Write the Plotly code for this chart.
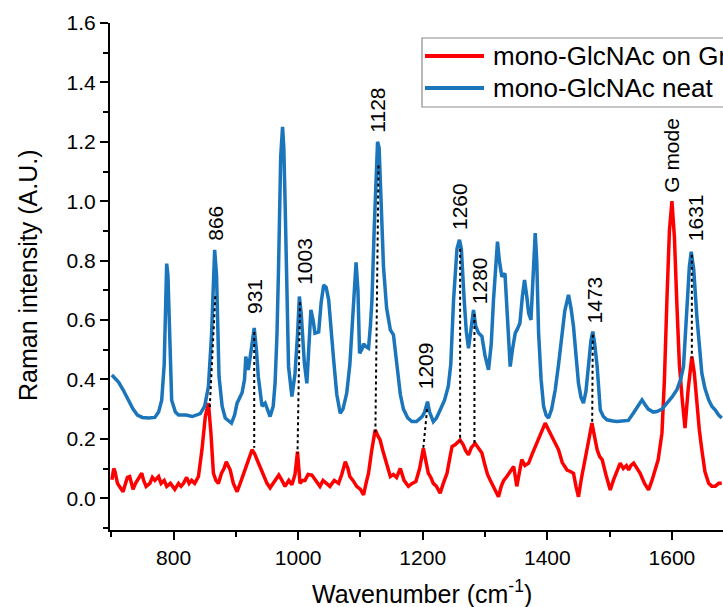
import plotly.graph_objects as go

# ---- data ----
neat_x = [701, 712, 719, 728, 735, 742, 750, 760, 770, 776, 781, 785, 789, 791, 794, 797, 803, 808, 820, 830,
          843, 850, 856, 861, 866, 869, 873, 878, 883, 893, 898, 902, 910, 914, 916, 919, 920, 924, 929.5, 933,
          936, 942, 947, 955, 960, 963, 966, 968.6, 972, 975, 977, 979, 982, 984.6, 990, 995, 999, 1002, 1005, 1010,
          1014, 1017, 1020.5, 1024, 1027, 1033, 1037, 1041, 1045, 1049, 1053, 1057, 1062, 1067.5, 1072, 1078, 1083, 1086, 1090, 1093,
          1096, 1098.6, 1102, 1105, 1109, 1113, 1116, 1118.5, 1122, 1125, 1127.5, 1130, 1133, 1137, 1142, 1148, 1153, 1156, 1158.6, 1164,
          1169, 1176, 1182.6, 1190, 1199, 1203, 1207.7, 1211, 1217, 1222, 1228, 1235, 1241, 1245, 1249.5, 1255, 1259, 1262, 1266.5, 1270,
          1273.5, 1277, 1281.5, 1285, 1289.6, 1295, 1300, 1305.6, 1310, 1313.6, 1317, 1320, 1323, 1327, 1332, 1336, 1340.4, 1344, 1348.5, 1352,
          1356, 1360, 1363.4, 1367, 1370, 1373.7, 1377, 1380.6, 1383, 1386, 1390, 1394, 1398, 1402, 1407, 1412.7, 1418, 1423.4, 1428, 1434,
          1438, 1442, 1446, 1450, 1454, 1458, 1462, 1466, 1470, 1473, 1476, 1480, 1483, 1485, 1490, 1495.7, 1505, 1512, 1520, 1530,
          1538, 1545, 1552, 1557, 1562, 1570, 1576, 1584, 1592, 1600, 1608, 1614, 1618.6, 1621, 1624, 1628, 1631, 1635, 1640, 1644,
          1648, 1653, 1659, 1664, 1669.6, 1675, 1680]
neat_y = [0.415, 0.39, 0.365, 0.33, 0.30, 0.28, 0.272, 0.27, 0.272, 0.29, 0.33, 0.45, 0.79, 0.75, 0.50, 0.33, 0.29, 0.28, 0.28, 0.275,
          0.285, 0.31, 0.376, 0.55, 0.836, 0.75, 0.41, 0.31, 0.27, 0.253, 0.28, 0.32, 0.355, 0.40, 0.477, 0.44, 0.432, 0.49, 0.573, 0.50,
          0.41, 0.31, 0.32, 0.275, 0.31, 0.388, 0.55, 0.78, 1.15, 1.25, 1.18, 1.005, 0.70, 0.443, 0.342, 0.42, 0.55, 0.679, 0.62, 0.455,
          0.387, 0.50, 0.634, 0.60, 0.556, 0.56, 0.66, 0.718, 0.71, 0.668, 0.58, 0.466, 0.35, 0.286, 0.30, 0.354, 0.45, 0.556, 0.72, 0.794,
          0.70, 0.488, 0.50, 0.52, 0.51, 0.505, 0.58, 0.668, 0.90, 1.12, 1.20, 1.18, 1.00, 0.78, 0.64, 0.567, 0.55, 0.50, 0.443, 0.35,
          0.30, 0.27, 0.258, 0.258, 0.275, 0.29, 0.325, 0.29, 0.258, 0.27, 0.297, 0.33, 0.376, 0.45, 0.668, 0.84, 0.87, 0.84, 0.668, 0.56,
          0.505, 0.556, 0.634, 0.58, 0.556, 0.545, 0.48, 0.432, 0.52, 0.668, 0.80, 0.864, 0.80, 0.746, 0.757, 0.62, 0.443, 0.50, 0.556, 0.57,
          0.589, 0.68, 0.735, 0.68, 0.623, 0.60, 0.75, 0.893, 0.80, 0.556, 0.40, 0.31, 0.28, 0.27, 0.30, 0.365, 0.45, 0.556, 0.63, 0.685,
          0.64, 0.578, 0.48, 0.387, 0.34, 0.32, 0.36, 0.443, 0.53, 0.561, 0.52, 0.443, 0.35, 0.297, 0.275, 0.264, 0.26, 0.258, 0.26, 0.262,
          0.286, 0.31, 0.331, 0.315, 0.30, 0.29, 0.292, 0.30, 0.32, 0.34, 0.365, 0.40, 0.443, 0.52, 0.612, 0.78, 0.83, 0.77, 0.612, 0.50,
          0.421, 0.37, 0.331, 0.31, 0.297, 0.28, 0.27]

gr_x = [701, 704, 706, 710, 713, 716, 719, 723, 726, 729.6, 732, 735, 739, 744, 749, 752, 756, 762, 766, 770,
        776, 780, 785, 789, 795, 802, 808, 812, 816, 821, 825, 829, 834, 840, 845.6, 851, 856, 860, 864, 868,
        872, 877, 881, 884.6, 888, 891, 896, 902, 907, 912.8, 918, 922, 926, 930, 934, 939, 945, 950, 955, 960,
        965, 969, 974, 979, 985, 990, 995, 999, 1003, 1007, 1011, 1016, 1022, 1028, 1035, 1040, 1045, 1051, 1058, 1065,
        1070, 1075.7, 1080, 1083, 1088, 1094, 1100, 1105, 1109, 1113, 1118, 1123.7, 1128, 1131.6, 1136, 1140, 1144, 1148, 1153, 1158,
        1164, 1170, 1177, 1183, 1189, 1195, 1201, 1205, 1209, 1213, 1217, 1222, 1228, 1233, 1239, 1243, 1247, 1252, 1256, 1260,
        1265, 1269, 1273.5, 1278, 1284, 1289, 1295, 1300, 1304, 1308, 1313, 1318, 1321.6, 1326, 1330, 1335, 1340, 1346, 1351, 1355,
        1359, 1364, 1370, 1376, 1383, 1390, 1396.6, 1402, 1407, 1412, 1418, 1424, 1431.6, 1437, 1442, 1446, 1450, 1455, 1461, 1466,
        1471.6, 1476, 1480, 1484, 1488, 1494, 1501, 1506, 1511, 1517, 1522, 1527, 1530.6, 1534, 1538.6, 1544, 1549, 1556, 1562.5, 1568,
        1573, 1578, 1584, 1588, 1592, 1596, 1600, 1604, 1608, 1612, 1616.6, 1621, 1626, 1632, 1636, 1640, 1644, 1648, 1653, 1659,
        1664, 1669.6, 1675, 1680]
gr_y = [0.062, 0.10, 0.09, 0.05, 0.04, 0.03, 0.022, 0.05, 0.07, 0.073, 0.05, 0.03, 0.05, 0.07, 0.084, 0.06, 0.04, 0.05, 0.07, 0.06,
        0.073, 0.05, 0.06, 0.04, 0.05, 0.03, 0.05, 0.04, 0.05, 0.07, 0.05, 0.06, 0.05, 0.073, 0.163, 0.275, 0.32, 0.22, 0.084, 0.06,
        0.05, 0.084, 0.10, 0.123, 0.11, 0.095, 0.05, 0.022, 0.05, 0.084, 0.11, 0.14, 0.163, 0.15, 0.13, 0.10, 0.073, 0.05, 0.035, 0.05,
        0.07, 0.078, 0.06, 0.04, 0.06, 0.045, 0.08, 0.157, 0.05, 0.06, 0.06, 0.08, 0.078, 0.06, 0.04, 0.06, 0.05, 0.04, 0.06, 0.05,
        0.08, 0.123, 0.10, 0.073, 0.06, 0.04, 0.03, 0.011, 0.05, 0.084, 0.16, 0.23, 0.21, 0.196, 0.16, 0.13, 0.10, 0.073, 0.08, 0.07,
        0.10, 0.06, 0.04, 0.05, 0.056, 0.10, 0.168, 0.12, 0.084, 0.07, 0.05, 0.04, 0.017, 0.05, 0.084, 0.13, 0.174, 0.18, 0.19, 0.196,
        0.18, 0.16, 0.146, 0.17, 0.185, 0.17, 0.152, 0.11, 0.08, 0.062, 0.04, 0.02, 0.005, 0.04, 0.06, 0.073, 0.09, 0.107, 0.04, 0.09,
        0.13, 0.11, 0.118, 0.15, 0.185, 0.22, 0.253, 0.23, 0.21, 0.19, 0.163, 0.12, 0.095, 0.09, 0.084, 0.04, 0.005, 0.07, 0.13, 0.19,
        0.253, 0.21, 0.163, 0.14, 0.13, 0.08, 0.028, 0.06, 0.09, 0.118, 0.10, 0.11, 0.095, 0.11, 0.118, 0.10, 0.084, 0.05, 0.028, 0.06,
        0.095, 0.13, 0.219, 0.40, 0.668, 0.90, 1.0, 0.88, 0.65, 0.45, 0.331, 0.236, 0.365, 0.477, 0.42, 0.32, 0.23, 0.163, 0.09, 0.05,
        0.04, 0.04, 0.05, 0.05]

series_names = ["mono-GlcNAc on Graphene", "mono-GlcNAc neat"]

peak_labels = ["866", "931", "1003", "1128", "1209", "1260", "1280", "1473", "G mode", "1631"]
peak_label_x = [868, 931, 1010, 1126, 1205, 1259, 1291, 1475, 1600, 1637]
peak_label_y = [0.927, 0.678, 0.797, 1.307, 0.447, 0.982, 0.732, 0.666, 1.156, 0.946]

# dotted connector lines between the two spectra (top point on neat, bottom point on graphene)
link_top_x = [867, 929.5, 1003, 1129, 1207, 1260, 1283, 1473, 1632]
link_top_y = [0.68, 0.56, 0.66, 1.12, 0.30, 0.84, 0.62, 0.55, 0.82]
link_bot_x = [858, 929.5, 999, 1124, 1201, 1260, 1283, 1472, 1632]
link_bot_y = [0.30, 0.17, 0.15, 0.22, 0.17, 0.19, 0.18, 0.25, 0.47]

x_ticks = [800, 1000, 1200, 1400, 1600]
y_ticks = [0.0, 0.2, 0.4, 0.6, 0.8, 1.0, 1.2, 1.4, 1.6]
x_title = "Wavenumber (cm<sup>-1</sup>)"
y_title = "Raman intensity (A.U.)"

FONT = "Liberation Sans, Arial, sans-serif"
RED = "#ff0000"
BLUE = "#1a75bb"
COLORS = [RED, BLUE]

W, H = 723, 607
ML, MR, MT, MB = 110, 0, 23, 77
PW, PH = W - ML - MR, H - MT - MB


def px_to_paper(px, py):
    return (px - ML) / PW, (H - MB - py) / PH


fig = go.Figure()
fig.add_trace(go.Scatter(x=gr_x, y=gr_y, mode="lines", name=series_names[0],
                         line=dict(color=RED, width=3.5), showlegend=False))
fig.add_trace(go.Scatter(x=neat_x, y=neat_y, mode="lines", name=series_names[1],
                         line=dict(color=BLUE, width=3.5), showlegend=False))

for tx, ty, bx, by in zip(link_top_x, link_top_y, link_bot_x, link_bot_y):
    fig.add_shape(type="line", xref="x", yref="y", x0=tx, y0=ty, x1=bx, y1=by,
                  line=dict(color="black", width=2, dash="dot"), layer="above")

for lab, lx, ly in zip(peak_labels, peak_label_x, peak_label_y):
    fig.add_annotation(x=lx, y=ly, xref="x", yref="y", text=lab, textangle=-90,
                       showarrow=False, font=dict(family=FONT, size=21, color="black"),
                       xanchor="center", yanchor="middle")

# legend box drawn by hand (it runs off the right edge, as in the reference)
bx0, by0 = px_to_paper(422, 107)
bx1, by1 = px_to_paper(780, 38)
fig.add_shape(type="rect", xref="paper", yref="paper", x0=bx0, y0=by0, x1=bx1, y1=by1,
              line=dict(color="#8c8c8c", width=1.2), fillcolor="white", layer="above")
for i, (name, col) in enumerate(zip(series_names, COLORS)):
    yy = 56 + 32 * i
    lx0, ly = px_to_paper(425, yy)
    lx1, _ = px_to_paper(484, yy)
    fig.add_shape(type="line", xref="paper", yref="paper", x0=lx0, y0=ly, x1=lx1, y1=ly,
                  line=dict(color=col, width=4), layer="above")
    tx, _ = px_to_paper(491, yy)
    fig.add_annotation(x=tx, y=ly, xref="paper", yref="paper", text=name, showarrow=False,
                       xanchor="left", yanchor="middle", font=dict(family=FONT, size=26, color="black"))

# axis titles (centred on the full, uncropped frame as in the reference)
xtx, xty = px_to_paper(422, 592)
fig.add_annotation(x=xtx, y=xty, xref="paper", yref="paper", text=x_title, showarrow=False,
                   xanchor="center", yanchor="middle", font=dict(family=FONT, size=25, color="black"))
ytx, yty = px_to_paper(28, 276)
fig.add_annotation(x=ytx, y=yty, xref="paper", yref="paper", text=y_title, showarrow=False, textangle=-90,
                   xanchor="center", yanchor="middle", font=dict(family=FONT, size=25, color="black"))

fig.update_layout(
    width=W, height=H,
    margin=dict(l=ML, r=MR, t=MT, b=MB, autoexpand=False),
    paper_bgcolor="white", plot_bgcolor="white",
    font=dict(family=FONT, color="black"),
    showlegend=False,
    xaxis=dict(range=[698, 1682], tickvals=x_ticks, ticks="outside", ticklen=8, tickwidth=2,
               tickcolor="black", showline=True, linecolor="black", linewidth=2, automargin=False,
               showgrid=False, zeroline=False, tickfont=dict(family=FONT, size=21),
               minor=dict(dtick=100, tick0=0, ticks="outside", ticklen=5, tickwidth=2, tickcolor="black", showgrid=False)),
    yaxis=dict(range=[-0.107, 1.6], tickvals=y_ticks, tickformat=".1f", ticks="outside", ticklen=8, tickwidth=2,
               tickcolor="black", showline=True, linecolor="black", linewidth=2, automargin=False,
               showgrid=False, zeroline=False, tickfont=dict(family=FONT, size=21),
               minor=dict(dtick=0.1, tick0=0, ticks="outside", ticklen=5, tickwidth=2, tickcolor="black", showgrid=False)),
)

fig.write_html("out.html", config={"displayModeBar": False},
               post_script="document.body.style.margin='0';document.body.style.overflow='hidden';")
